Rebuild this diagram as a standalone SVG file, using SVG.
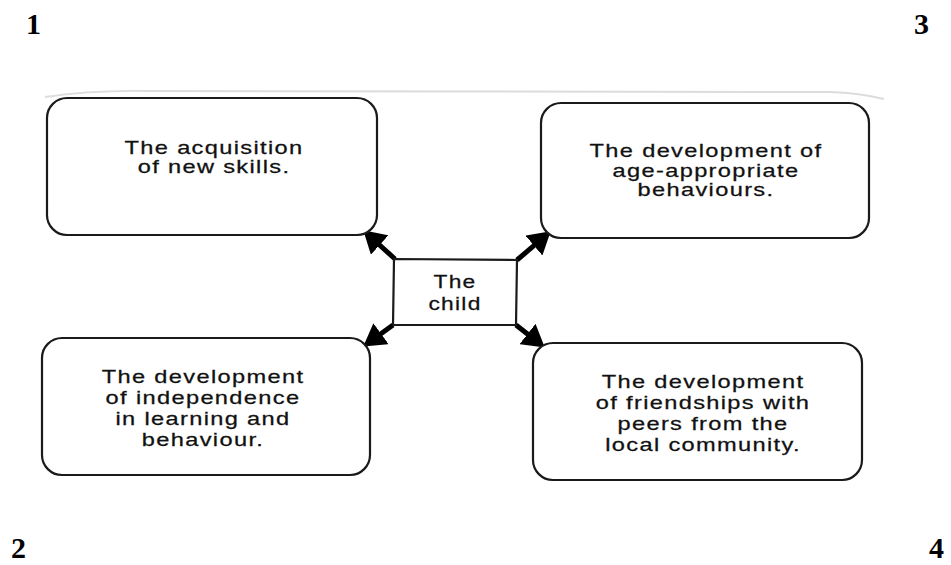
<svg xmlns="http://www.w3.org/2000/svg" width="951" height="565" viewBox="0 0 951 565">
<style>
.box{fill:#fff;stroke:#1a1a1a;stroke-width:2.2}
.t{font-family:"Liberation Sans",Arial,sans-serif;font-size:17.5px;letter-spacing:1px;fill:#111;stroke:#111;stroke-width:0.25;text-anchor:middle}
.num{font-family:"Liberation Serif","Times New Roman",serif;font-size:30px;font-weight:bold;fill:#000}
.arr{stroke:#000;stroke-width:5;fill:none;marker-end:url(#ah)}
</style>
<defs>
<marker id="ah" viewBox="0 0 22 26" refX="15" refY="13" markerWidth="22" markerHeight="26" markerUnits="userSpaceOnUse" orient="auto">
<path d="M0,0 L22,13 L0,26 z" fill="#000"/>
</marker>
</defs>
<rect width="951" height="565" fill="#fff"/>
<path d="M45,97 Q90,90 150,91 L830,92 Q860,93 884,99" fill="none" stroke="#dcdcdc" stroke-width="2"/>
<text class="num" x="26" y="34">1</text>
<text class="num" x="914" y="34">3</text>
<text class="num" x="11" y="558">2</text>
<text class="num" x="929" y="558">4</text>
<g id="connectors">
<line class="arr" x1="395" y1="259" x2="368.5" y2="235"/>
<line class="arr" x1="517" y1="260" x2="545.4" y2="235.9"/>
<line class="arr" x1="393" y1="325" x2="368.9" y2="342.5"/>
<line class="arr" x1="516" y1="325" x2="539.3" y2="343.3"/>
</g>
<g id="child">
<path class="box" d="M394,259 L517,260 L516,325 L393,325 Z"/>
<g transform="translate(455,0) scale(1.3,1)">
<text class="t" x="0" y="288">The</text>
<text class="t" x="0" y="310">child</text>
</g>
</g>
<g id="skills">
<rect class="box" x="47" y="98" width="330" height="137" rx="20"/>
<g transform="translate(214,0) scale(1.35,1)">
<text class="t" x="0" y="154">The acquisition</text>
<text class="t" x="0" y="173">of new skills.</text>
</g>
</g>
<g id="behaviours">
<rect class="box" x="541" y="103" width="328" height="135" rx="20"/>
<g transform="translate(706,0) scale(1.35,1)">
<text class="t" x="0" y="157">The development of</text>
<text class="t" x="0" y="177">age-appropriate</text>
<text class="t" x="0" y="196">behaviours.</text>
</g>
</g>
<g id="independence">
<rect class="box" x="42" y="338" width="328" height="137" rx="20"/>
<g transform="translate(203,0) scale(1.35,1)">
<text class="t" x="0" y="383">The development</text>
<text class="t" x="0" y="404">of independence</text>
<text class="t" x="0" y="425">in learning and</text>
<text class="t" x="0" y="446">behaviour.</text>
</g>
</g>
<g id="friendships">
<rect class="box" x="533" y="343" width="329" height="137" rx="20"/>
<g transform="translate(703,0) scale(1.35,1)">
<text class="t" x="0" y="388">The development</text>
<text class="t" x="0" y="409">of friendships with</text>
<text class="t" x="0" y="430">peers from the</text>
<text class="t" x="0" y="451">local community.</text>
</g>
</g>
</svg>
